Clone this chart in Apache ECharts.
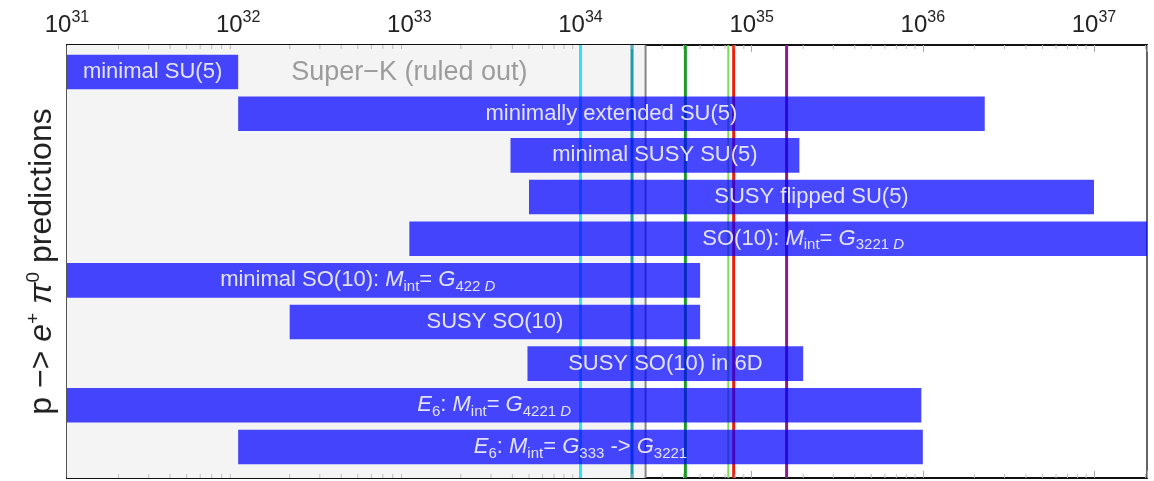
<!DOCTYPE html>
<html><head><meta charset="utf-8">
<script src="https://cdn.jsdelivr.net/npm/echarts@6/dist/echarts.min.js"></script>
<style>html,body{margin:0;padding:0;background:#fff}#c{width:1154px;height:481px}</style>
</head><body><div id="c"></div>
<script>
// ---- data (proton lifetime, years) ----
const models = [
  'minimal SU(5)',
  'minimally extended SU(5)',
  'minimal SUSY SU(5)',
  'SUSY flipped SU(5)',
  'SO(10): {it|M}{sub|int}= {it|G}{sub|3221 }{subit|D}',
  'minimal SO(10): {it|M}{sub|int}= {it|G}{sub|422 }{subit|D}',
  'SUSY SO(10)',
  'SUSY SO(10) in 6D',
  '{it|E}{sub|6}: {it|M}{sub|int}= {it|G}{sub|4221 }{subit|D}',
  '{it|E}{sub|6}: {it|M}{sub|int}= {it|G}{sub|333} -> {it|G}{sub|3221}'
];
const barStart = [1e31, 1e32, 3.9e33, 5.0e33, 1e33, 5e30, 2.0e32, 4.9e33, 1e31, 1e32];
const barEnd   = [1e32, 2.3e36, 1.9e35, 1e37, 4e37, 5e34, 5e34, 2.0e35, 9.8e35, 1e36];

const limitValues = [1e34, 2e34, 2.4e34, 4.1e34, 7.3e34, 7.85e34, 1.6e35];
const limitColors = ['#2ee3f2', '#1c9ea8', '#858585', '#1e9a2a', '#7edb55', '#e8210e', '#8a1c8c'];
const limitWidths = [3, 3, 2, 3, 2, 3, 3];

const superKLimit = 2.4e34;
const superKText = 'Super\u2212K (ruled out)';
const superKAt = [1e33, 0];

const decades = [31, 32, 33, 34, 35, 36, 37];   // tick label exponents
const minorMantissas = [2, 3, 4, 5, 6, 7, 8, 9];
const axisMin = 1e31, axisMax = 2.04e37;

const FONT = 'Liberation Sans, Arial, sans-serif';
const labelColor = '#e2e2fa';

const chart = echarts.init(document.getElementById('c'));

const barData = models.map((m, i) => [barStart[i], barEnd[i], i]);
const limitData = limitValues.map((v) => [v, 0]);

const richBar = {
  it: {fontStyle: 'italic', fontSize: 22, fontFamily: FONT, fill: labelColor, lineHeight: 28},
  sub: {fontSize: 15, fontFamily: FONT, fill: labelColor, lineHeight: 15, verticalAlign: 'bottom'},
  subit: {fontSize: 15, fontStyle: 'italic', fontFamily: FONT, fill: labelColor, lineHeight: 15, verticalAlign: 'bottom'}
};

function frame(params) {
  const cs = params.coordSys;
  return {x: cs.x, y: cs.y, width: cs.width, height: cs.height};
}

const option = {
  animation: false,
  backgroundColor: '#fff',
  grid: {left: 67, right: 7, top: 45, bottom: 3, show: true, borderColor: '#333', borderWidth: 1.5, backgroundColor: '#fff'},
  xAxis: [{
    type: 'log', logBase: 10, position: 'top', min: axisMin, max: axisMax,
    axisLine: {show: true, onZero: false, lineStyle: {color: '#111', width: 2}},
    axisTick: {show: true, inside: true, length: 7, lineStyle: {color: '#aaa', width: 1}},
    splitLine: {show: false},
    axisLabel: {
      margin: 5,
      formatter: function (v) {
        const e = Math.log10(v), r = Math.round(e);
        if (Math.abs(e - r) > 1e-6 || decades.indexOf(r) < 0) return '';
        return '{b|10}{s|' + r + '}';
      },
      rich: {
        b: {fontSize: 24, fontFamily: FONT, color: '#222', lineHeight: 30},
        s: {fontSize: 16, fontFamily: FONT, color: '#222', lineHeight: 16, verticalAlign: 'top'}
      }
    }
  }, {
    type: 'log', logBase: 10, position: 'bottom', min: axisMin, max: axisMax,
    axisLine: {show: true, onZero: false, lineStyle: {color: '#111', width: 2}},
    axisTick: {show: true, inside: true, length: 7, lineStyle: {color: '#aaa', width: 1}},
    splitLine: {show: false},
    axisLabel: {show: false}
  }],
  yAxis: {
    type: 'value', min: -0.65, max: 9.745, inverse: true,
    axisLine: {show: true, onZero: false, lineStyle: {color: '#555', width: 2}},
    axisTick: {show: false}, axisLabel: {show: false}, splitLine: {show: false},
    name: '{n|p \u2212> }{i|e}{sup|+}{n| }{i|\u03c0}{sup|0}{n| predictions}',
    nameLocation: 'middle', nameRotate: 90, nameGap: 7,
    nameTextStyle: {
      fontFamily: FONT, fontSize: 32, color: '#222',
      rich: {
        n: {fontSize: 32, fontFamily: FONT, color: '#222', lineHeight: 36},
        i: {fontSize: 32, fontFamily: FONT, fontStyle: 'italic', color: '#222', lineHeight: 36},
        sup: {fontSize: 19, fontFamily: FONT, color: '#222', lineHeight: 18, verticalAlign: 'top'}
      }
    }
  },
  series: [
    { // Super-K excluded region
      type: 'custom', xAxisIndex: 0, z: 1, silent: true,
      data: [[superKLimit, 0]],
      renderItem: function (params, api) {
        const f = frame(params);
        const xr = api.coord([api.value(0), 0])[0];
        const tp = api.coord(superKAt);
        return {type: 'group', children: [
          {type: 'rect', shape: {x: f.x, y: f.y, width: xr - f.x, height: f.height}, style: {fill: '#f4f4f4'}},
          {type: 'text', x: tp[0], y: tp[1], style: {text: superKText, fontSize: 27, fontFamily: FONT, fill: '#9c9c9c', align: 'center', verticalAlign: 'middle'}}
        ]};
      }
    },
    { // experimental limits (vertical lines)
      type: 'custom', xAxisIndex: 0, z: 2, silent: true,
      data: limitData,
      renderItem: function (params, api) {
        const f = frame(params);
        const x = api.coord([api.value(0), 0])[0];
        const i = params.dataIndex;
        return {type: 'line', shape: {x1: x, y1: f.y, x2: x, y2: f.y + f.height},
          style: {stroke: limitColors[i], lineWidth: limitWidths[i]}};
      }
    },
    { // minor log ticks
      type: 'custom', xAxisIndex: 0, z: 2, silent: true,
      data: [[axisMin, 0]],
      renderItem: function (params, api) {
        const f = frame(params);
        const ch = [];
        decades.forEach(function (k) {
          minorMantissas.forEach(function (m) {
            const v = m * Math.pow(10, k);
            if (v >= axisMax) return;
            const x = api.coord([v, 0])[0];
            ch.push({type: 'line', shape: {x1: x, y1: f.y, x2: x, y2: f.y + 4}, style: {stroke: '#bbb', lineWidth: 1}});
            ch.push({type: 'line', shape: {x1: x, y1: f.y + f.height - 4, x2: x, y2: f.y + f.height}, style: {stroke: '#bbb', lineWidth: 1}});
          });
        });
        return {type: 'group', children: ch};
      }
    },
    { // model predictions
      type: 'custom', xAxisIndex: 0, z: 3, silent: true,
      encode: {x: [0, 1], y: 2},
      data: barData,
      renderItem: function (params, api) {
        const f = frame(params);
        const row = api.value(2);
        const s = api.coord([api.value(0), row]);
        const e = api.coord([api.value(1), row]);
        const y0 = api.coord([api.value(0), row - 0.5])[1];
        const y1 = api.coord([api.value(0), row + 0.5])[1];
        const h = Math.abs(y1 - y0) * 0.83;
        const rect = echarts.graphic.clipRectByRect(
          {x: s[0], y: s[1] - h / 2, width: e[0] - s[0], height: h}, f);
        return {type: 'group', children: [
          {type: 'rect', shape: rect, style: {fill: 'rgba(0,0,255,0.72)'}},
          {type: 'text', x: (s[0] + e[0]) / 2, y: s[1], style: {
            text: models[params.dataIndex], fontSize: 22, fontFamily: FONT, fill: labelColor,
            lineHeight: 28, align: 'center', verticalAlign: 'middle', rich: richBar}}
        ]};
      }
    }
  ]
};
chart.setOption(option);
</script></body></html>
